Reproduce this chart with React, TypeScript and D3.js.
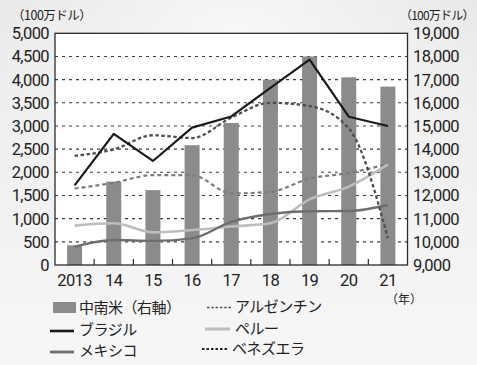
import React from "react";
import * as d3 from "d3";

// Years on the x axis
const years = ["2013", "14", "15", "16", "17", "18", "19", "20", "21"];

// Latin America total (right axis, million USD)
const latamTotal = [9850, 12600, 12230, 14170, 15130, 17000, 18000, 17100, 16700];

// Country series (left axis, million USD)
const brazil = [1720, 2830, 2245, 2965, 3205, 3820, 4430, 3200, 3000];
const argentina = [1650, 1775, 1940, 1940, 1545, 1580, 1865, 1985, 2180];
const peru = [850, 900, 705, 755, 830, 900, 1415, 1690, 2170];
const mexico = [395, 540, 520, 575, 930, 1100, 1160, 1165, 1295];
const venezuela = [2355, 2495, 2800, 2740, 3180, 3500, 3430, 2950, 580];

const leftTicks = [0, 500, 1000, 1500, 2000, 2500, 3000, 3500, 4000, 4500, 5000];
const rightTicks = [9000, 10000, 11000, 12000, 13000, 14000, 15000, 16000, 17000, 18000, 19000];

const W = 477;
const H = 365;
const plot = { left: 55, right: 407.5, top: 33.3, bottom: 265 };

const numFont = "Roboto, 'Liberation Sans', sans-serif";
const jpFont = "'Noto Sans CJK JP', 'Noto Sans', sans-serif";

type Series = {
  name: string;
  values: number[];
  color: string;
  width: number;
  dash?: string;
  curve: d3.CurveFactory;
};

const series: Series[] = [
  { name: "アルゼンチン", values: argentina, color: "#7c7c7c", width: 2.2, dash: "4,3", curve: d3.curveMonotoneX },
  { name: "ペルー", values: peru, color: "#bdbdbd", width: 2.6, curve: d3.curveMonotoneX },
  { name: "メキシコ", values: mexico, color: "#6e6e6e", width: 2.4, curve: d3.curveMonotoneX },
  { name: "ベネズエラ", values: venezuela, color: "#4e4e4e", width: 2.3, dash: "3.5,2.5", curve: d3.curveMonotoneX },
  { name: "ブラジル", values: brazil, color: "#1a1a1a", width: 2.2, curve: d3.curveLinear },
];

export default function App() {
  const x = d3
    .scaleBand<string>()
    .domain(years)
    .range([plot.left, plot.right])
    .paddingInner(0.617)
    .paddingOuter(0.3085);
  const step = x.step();
  const cx = (i: number) => (x(years[i]) as number) + x.bandwidth() / 2;
  const yL = d3.scaleLinear().domain([0, 5000]).range([plot.bottom, plot.top]);
  const yR = d3.scaleLinear().domain([9000, 19000]).range([plot.bottom, plot.top]);

  const lineFor = (s: Series) =>
    d3
      .line<number>()
      .x((_, i) => cx(i))
      .y((v) => yL(v))
      .curve(s.curve)(s.values) || "";

  const legendLine = (x0: number, y0: number, s: Series, len = 24) => (
    <line x1={x0} x2={x0 + len} y1={y0} y2={y0} stroke={s.color} strokeWidth={s.width + 0.4} strokeDasharray={s.dash} />
  );

  const byName = (n: string) => series.find((s) => s.name === n) as Series;

  return (
    <svg width={W} height={H} style={{ position: "absolute", left: 0, top: 0 }}>
      <defs>
        <linearGradient id="bg" x1="0" y1="0" x2="0" y2="1">
          <stop offset="0" stopColor="#e6e6e6" />
          <stop offset="0.35" stopColor="#efefef" />
          <stop offset="1" stopColor="#f7f7f7" />
        </linearGradient>
        <radialGradient id="haze" cx="0.5" cy="0.1" r="0.6">
          <stop offset="0" stopColor="#ffffff" stopOpacity="0.7" />
          <stop offset="1" stopColor="#ffffff" stopOpacity="0" />
        </radialGradient>
      </defs>
      <rect x={0} y={0} width={W} height={H} fill="url(#bg)" />
      <rect x={0} y={0} width={W} height={H} fill="url(#haze)" />

      {/* plot area */}
      <rect x={plot.left} y={plot.top} width={plot.right - plot.left} height={plot.bottom - plot.top} fill="#ffffff" />

      {/* gridlines */}
      {leftTicks.slice(1, -1).map((t) => (
        <line key={t} x1={plot.left} x2={plot.right} y1={yL(t)} y2={yL(t)} stroke="#3a3a3a" strokeWidth={1.1} strokeDasharray="3,4" />
      ))}

      {/* Latin America bars (right axis) */}
      {latamTotal.map((v, i) => (
        <rect key={years[i]} x={x(years[i])} y={yR(v)} width={x.bandwidth()} height={plot.bottom - yR(v)} fill="#8b8b8d" />
      ))}

      {/* country lines (left axis) */}
      {series.map((s) => (
        <path key={s.name} d={lineFor(s)} fill="none" stroke={s.color} strokeWidth={s.width} strokeDasharray={s.dash} strokeLinejoin="round" />
      ))}

      {/* frame */}
      <rect x={plot.left} y={plot.top} width={plot.right - plot.left} height={plot.bottom - plot.top} fill="none" stroke="#2b2b2b" strokeWidth={1.3} />

      {/* x ticks at band boundaries */}
      {years.slice(1).map((_, i) => {
        const tx = plot.left + step * (i + 1);
        return <line key={i} x1={tx} x2={tx} y1={plot.bottom} y2={plot.bottom - 6} stroke="#2b2b2b" strokeWidth={1.2} />;
      })}

      {/* left axis labels */}
      {leftTicks.map((t) => (
        <text key={t} x={49} y={yL(t)} dy="0.36em" textAnchor="end" fontFamily={numFont} fontSize={16.5} fill="#222" letterSpacing={-0.6}>
          {d3.format(",")(t)}
        </text>
      ))}

      {/* right axis labels */}
      {rightTicks.map((t) => (
        <text key={t} x={413} y={yR(t)} dy="0.36em" textAnchor="start" fontFamily={numFont} fontSize={16.5} fill="#222" letterSpacing={-0.6}>
          {d3.format(",")(t)}
        </text>
      ))}

      {/* x labels */}
      {years.map((yr, i) => (
        <text key={yr} x={cx(i)} y={286} textAnchor="middle" fontFamily={numFont} fontSize={16.5} fill="#222" letterSpacing={-0.6}>
          {yr}
        </text>
      ))}

      {/* unit labels */}
      <text x={12} y={20} fontFamily={jpFont} fontSize={12.5} fill="#222" letterSpacing={-0.5}>（100万ドル）</text>
      <text x={400} y={20} fontFamily={jpFont} fontSize={12} fill="#222" letterSpacing={-0.8}>（100万ドル）</text>
      <text x={404} y={304} textAnchor="middle" fontFamily={jpFont} fontSize={12} fill="#222">（年）</text>

      {/* legend */}
      <rect x={53} y={302} width={23} height={11} fill="#8b8b8d" />
      <text x={79} y={307.5} dy="0.36em" fontFamily={jpFont} fontSize={15} fill="#222" letterSpacing={-0.5}>中南米（右軸）</text>

      {legendLine(50, 331, byName("ブラジル"))}
      <text x={79} y={330} dy="0.36em" fontFamily={jpFont} fontSize={15} fill="#222" letterSpacing={-0.5}>ブラジル</text>

      {legendLine(50, 352, byName("メキシコ"))}
      <text x={79} y={351} dy="0.36em" fontFamily={jpFont} fontSize={15} fill="#222" letterSpacing={-0.5}>メキシコ</text>

      <line x1={207} x2={232} y1={307.5} y2={307.5} stroke="#555" strokeWidth={1.4} strokeDasharray="2.5,1.8" />
      <text x={235} y={307} dy="0.36em" fontFamily={jpFont} fontSize={15} fill="#222" letterSpacing={-0.5}>アルゼンチン</text>

      {legendLine(205, 329, byName("ペルー"), 25)}
      <text x={235} y={328.5} dy="0.36em" fontFamily={jpFont} fontSize={15} fill="#222" letterSpacing={-0.5}>ペルー</text>

      <line x1={202} x2={228} y1={349} y2={349} stroke="#222" strokeWidth={2} strokeDasharray="2.5,2" />
      <text x={232} y={348.5} dy="0.36em" fontFamily={jpFont} fontSize={15} fill="#222" letterSpacing={-0.5}>ベネズエラ</text>
    </svg>
  );
}
